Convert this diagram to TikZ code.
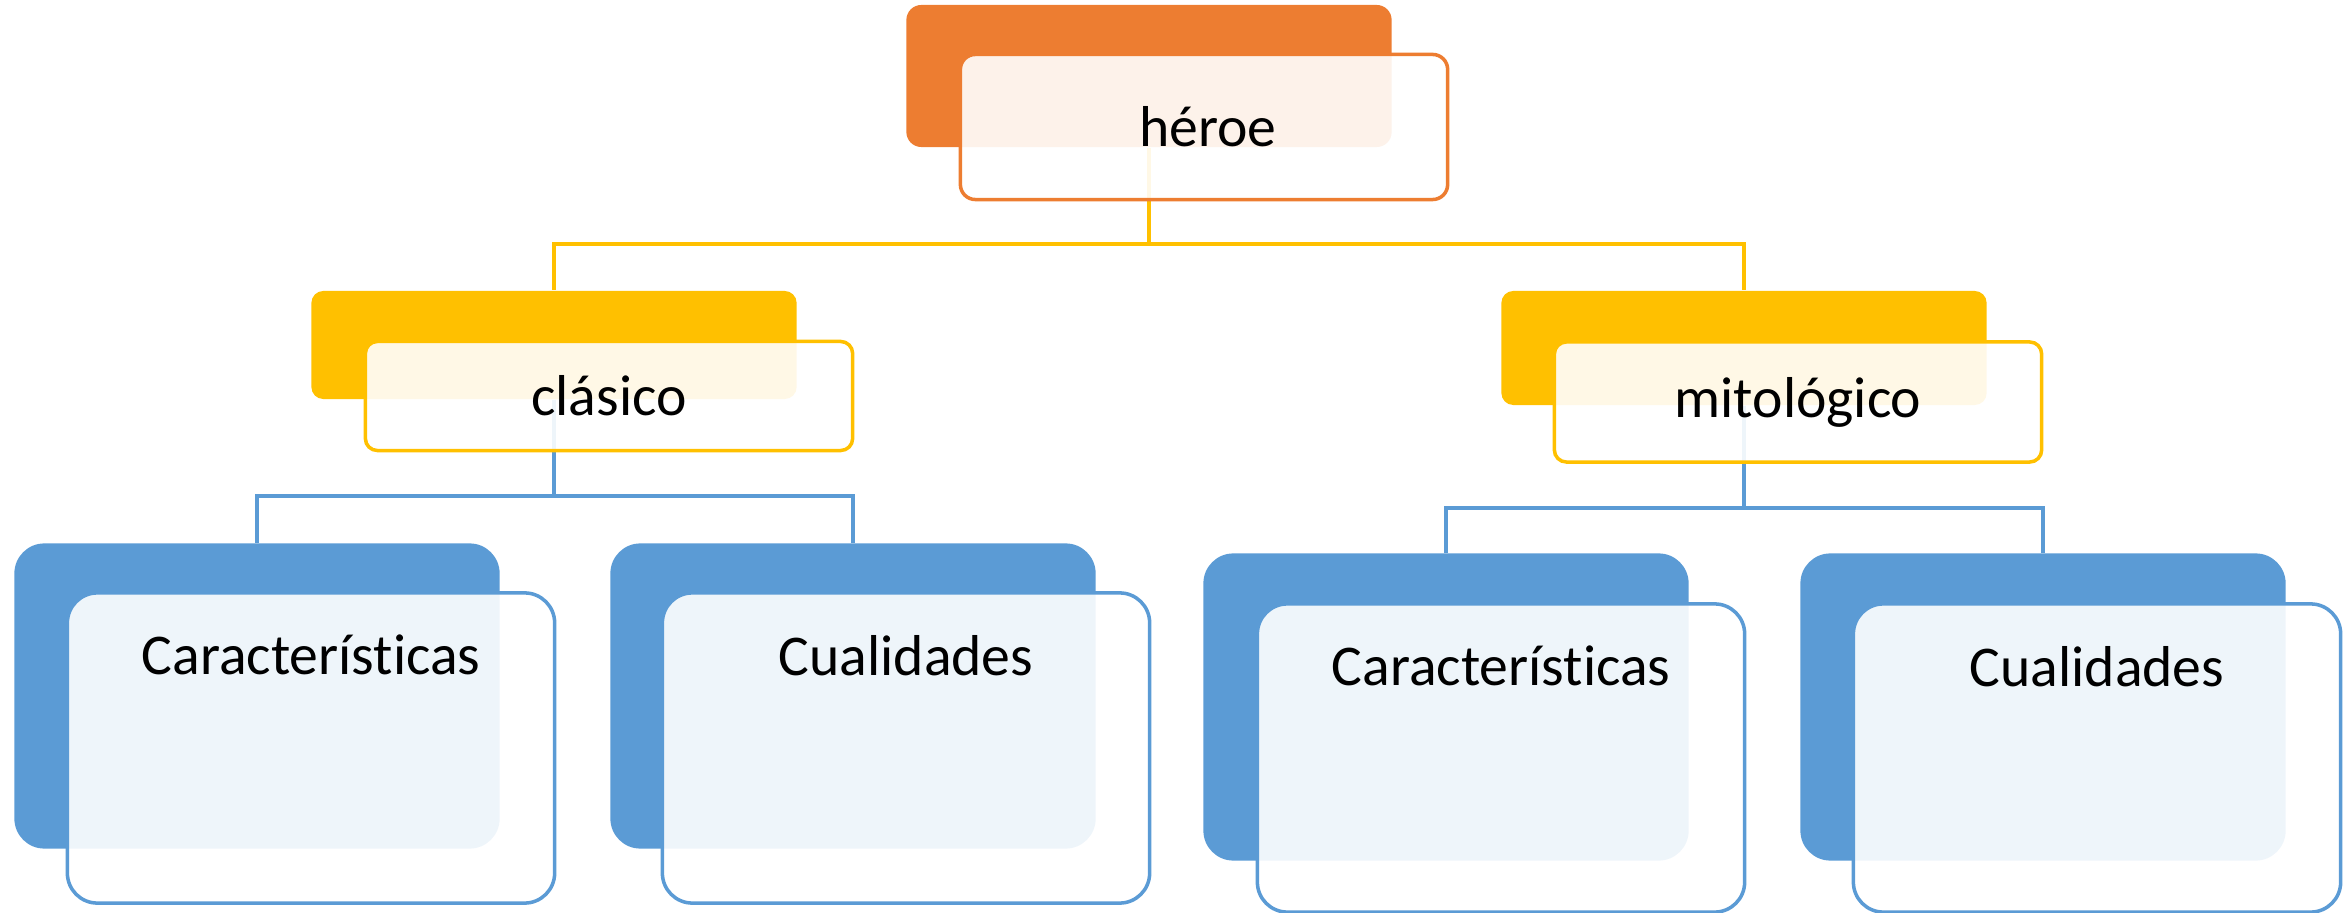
\documentclass[tikz,border=0pt]{standalone}
\usepackage{fontspec}
\setmainfont[Ligatures={NoCommon}]{Carlito}
\usepackage{xcolor}
\usepackage{tikz}
\usetikzlibrary{calc,positioning}

\definecolor{heroorange}{HTML}{ED7D31}
\definecolor{herogold}{HTML}{FFC000}
\definecolor{heroblue}{HTML}{5B9BD5}

\begin{document}
\begin{tikzpicture}[
	%	style def
    x=0.01cm, y=-0.01cm,
    back box/.style={rectangle, inner sep=0pt, minimum width=4.85cm, draw=none, fill=#1},
    front box/.style={rectangle, inner sep=0pt, minimum width=4.87cm, draw=#1, line width=1pt,
        fill=white, fill opacity=0.9, text opacity=1},
    top level/.style={minimum height=1.42cm, rounded corners=0.15cm},
    mid level/.style={minimum height=1.10cm, rounded corners=0.12cm},
    low level/.style={minimum height=3.07cm, rounded corners=0.30cm},
    box text/.style={font=\fontsize{16.4}{19}\selectfont, text=black, inner sep=0pt},
    link line/.style={line width=1pt, draw=#1}
    ]

    \useasboundingbox (0,0) rectangle (2343,913);

	% back boxes
	\node[back box=heroorange, top level] (heroeB) at (1149,76) {};
	\node[back box=herogold, mid level, minimum height=1.08cm] (clasicoB) at (554,345) {};
	\node[back box=herogold, mid level, minimum height=1.14cm] (mitoB) at (1744,348) {};
	\node[back box=heroblue, low level, minimum height=3.05cm] (car1B) at (257,696) {};
	\node[back box=heroblue, low level, minimum height=3.05cm] (cua1B) at (853,696) {};
	\node[back box=heroblue, low level] (car2B) at (1446,707) {};
	\node[back box=heroblue, low level] (cua2B) at (2043,707) {};

	% connectors (behind the front boxes)
	\coordinate (heroeJ) at (1149,244);
	\draw[link line=herogold] (heroeB.south) -- (heroeJ) -| (clasicoB.north);
	\draw[link line=herogold] (heroeJ) -| (mitoB.north);

	\coordinate (clasicoJ) at (554,496);
	\draw[link line=heroblue] (clasicoB.south) -- (clasicoJ) -| (car1B.north);
	\draw[link line=heroblue] (clasicoJ) -| (cua1B.north);

	\coordinate (mitoJ) at (1744,508);
	\draw[link line=heroblue] (mitoB.south) -- (mitoJ) -| (car2B.north);
	\draw[link line=heroblue] (mitoJ) -| (cua2B.north);

	% front boxes
	\node[front box=heroorange, top level, minimum height=1.45cm] (heroeF) at (1204,127) {};
	\node[front box=herogold, mid level, minimum height=1.09cm] (clasicoF) at (609,396) {};
	\node[front box=herogold, mid level, minimum height=1.20cm] (mitoF) at (1798,402) {};
	\node[front box=heroblue, low level, minimum height=3.10cm] (car1F) at (311,748) {};
	\node[front box=heroblue, low level, minimum height=3.10cm] (cua1F) at (906,748) {};
	\node[front box=heroblue, low level, minimum height=3.08cm] (car2F) at (1501,758) {};
	\node[front box=heroblue, low level, minimum height=3.08cm] (cua2F) at (2097,758) {};

	% labels
	\node[box text] (heroeT) at ([xshift=0.04cm]heroeF.center) {héroe};
	\node[box text] (clasicoT) at (clasicoF.center) {clásico};
	\node[box text] (mitoT) at (mitoF.center) {mitológico};
	\node[box text] (car1T) at ([yshift=-0.64cm]car1F.north) {Características};
	\node[box text] (cua1T) at ([yshift=-0.64cm]cua1F.north) {Cualidades};
	\node[box text] (car2T) at ([yshift=-0.64cm]car2F.north) {Características};
	\node[box text] (cua2T) at ([yshift=-0.64cm]cua2F.north) {Cualidades};
\end{tikzpicture}
\end{document}
